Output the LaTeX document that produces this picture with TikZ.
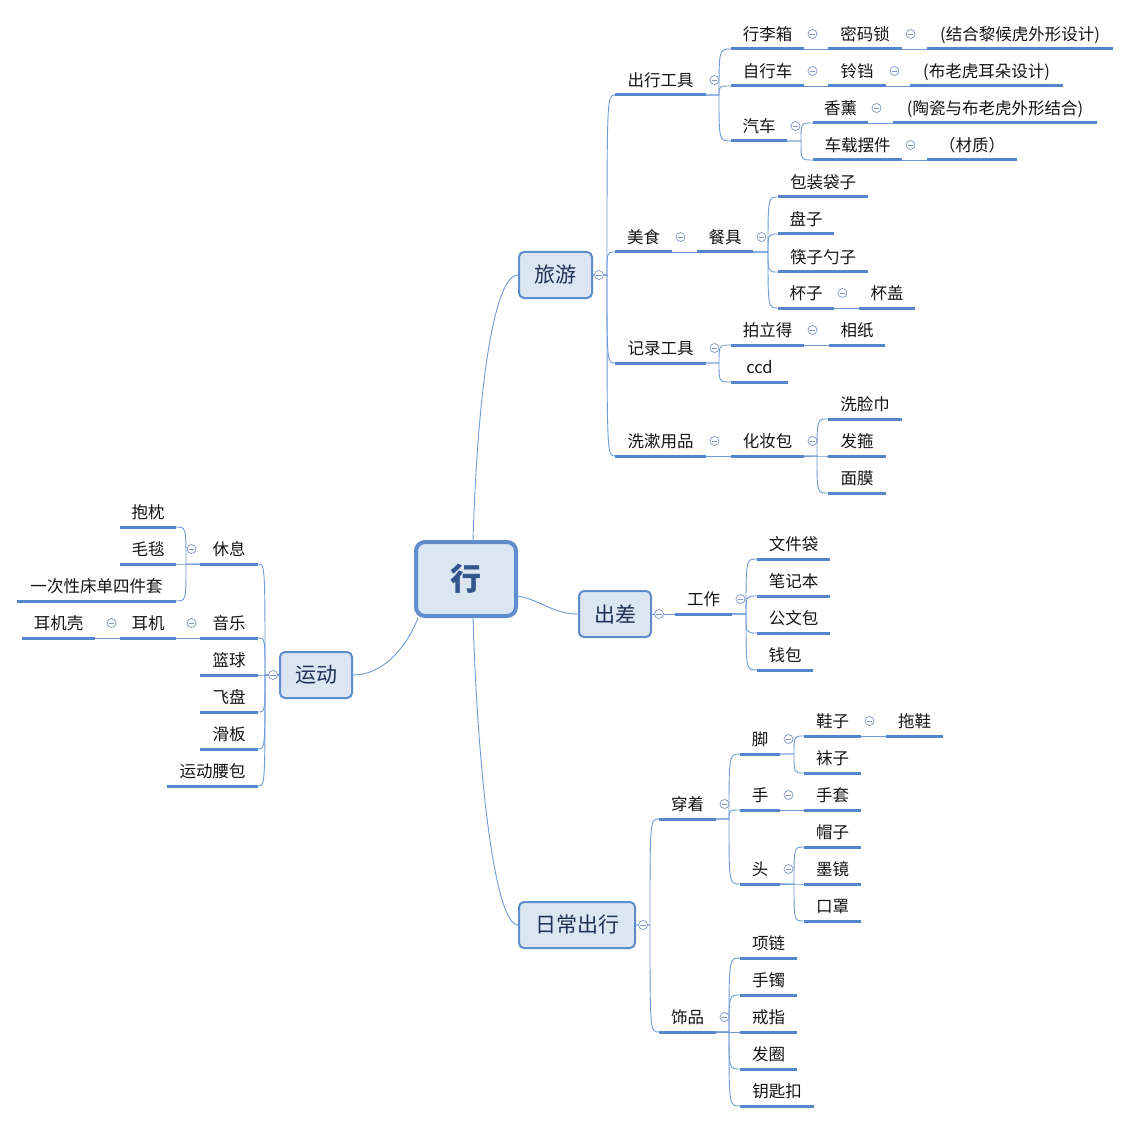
\documentclass[tikz,border=0pt]{standalone}
\usepackage{fontspec}
\newfontfamily\cjk{Noto Sans CJK SC}
\usetikzlibrary{calc}
\definecolor{ulc}{RGB}{84,134,204}
\definecolor{cnc}{RGB}{110,155,215}
\definecolor{foldc}{RGB}{125,150,195}
\definecolor{boxf}{RGB}{220,230,242}
\definecolor{boxd}{RGB}{95,140,205}
\definecolor{boxt}{RGB}{30,50,85}
\definecolor{roott}{RGB}{50,85,140}
\definecolor{txt}{RGB}{20,20,20}
\tikzset{
  ul/.style={line width=3pt, ulc},
  cn/.style={line width=0.9pt, cnc},
  lbl/.style={anchor=base, inner sep=0pt, text=txt, font=\cjk\fontsize{16.5}{16.5}\selectfont},
  box/.style={draw=boxd, fill=boxf, line width=2pt, rounded corners=5pt, text=boxt, inner sep=0pt,
    font=\cjk\fontsize{21}{21}\selectfont, minimum height=46pt},
  fold/.style={circle, draw=foldc, line width=0.7pt, fill=white, minimum size=9pt, inner sep=0pt,
    path picture={\draw[foldc,line width=0.7pt] ([xshift=-2.6pt]path picture bounding box.center) -- ([xshift=2.6pt]path picture bounding box.center);}}
}
\newcommand\topic[5]{%
  \coordinate (#1-l) at (#2,#4);
  \coordinate (#1-r) at (#3,#4);
  \draw[ul] (#1-l) -- (#1-r);
  \node[lbl] (#1) at ({(#2+#3)/2},{#4-8.7}) {#5};}
\newcommand\conn[3]{\draw[cn] (#1) -- (#3 |- #1) .. controls (#3 |- #2) .. (#2);}
\newcommand\foldR[1]{\node[fold] (#1-f) at ($(#1-r)+(8.5,-15)$) {};}
\newcommand\foldL[1]{\node[fold] (#1-f) at ($(#1-l)+(-8.5,-15)$) {};}
\begin{document}
\begin{tikzpicture}[x=1pt,y=-1pt]
\useasboundingbox[fill=white] (0,0) rectangle (1132,1123);
% boxes
\node[box, line width=4pt, rounded corners=9pt, minimum width=100pt, minimum height=74pt, text=roott,
  font=\cjk\bfseries\fontsize{31}{31}\selectfont] (root) at (466,579) {行};
\node[box, minimum width=73pt] (ly) at (555.5,275) {旅游};
\node[box, minimum width=72pt] (cc) at (615,614) {出差};
\node[box, minimum width=72pt] (yd) at (316,675) {运动};
\node[box, minimum width=116pt] (rc) at (577,925) {日常出行};
% trunk x positions
\coordinate (tly) at (607,0);
\coordinate (t1) at (719,0);
\coordinate (t2) at (801,0);
\coordinate (t3) at (768,0);
\coordinate (t4) at (719,0);
\coordinate (t5) at (817,0);
\coordinate (t6) at (746,0);
\coordinate (tyd) at (265,0);
\coordinate (t7) at (186,0);
\coordinate (trc) at (650,0);
\coordinate (t8) at (729,0);
\coordinate (t9) at (794,0);
% 旅游 topics
\topic{cxgj}{615}{706}{95}{出行工具}
\topic{xlx}{731}{804}{49}{行李箱}
\topic{mms}{828}{902}{49}{密码锁}
\topic{jh}{927}{1113}{49}{(结合黎候虎外形设计)}
\topic{zxc}{731}{804}{86}{自行车}
\topic{ld}{828}{886}{86}{铃铛}
\topic{blh}{910}{1063}{86}{(布老虎耳朵设计)}
\topic{qc}{731}{787}{141}{汽车}
\topic{xx}{813}{868}{123}{香薰}
\topic{tc}{893}{1097}{123}{(陶瓷与布老虎外形结合)}
\topic{czbj}{813}{902}{160}{车载摆件}
\topic{cz}{927}{1017}{160}{（材质）}
\topic{ms}{615}{672}{252}{美食}
\topic{cj}{697}{753}{252}{餐具}
\topic{bzdz}{778}{868}{197}{包装袋子}
\topic{pz}{778}{834}{234}{盘子}
\topic{kzsz}{778}{868}{272}{筷子勺子}
\topic{bz}{778}{834}{308}{杯子}
\topic{bg}{859}{915}{308}{杯盖}
\topic{jlgj}{615}{706}{363}{记录工具}
\topic{pld}{731}{804}{345}{拍立得}
\topic{xz}{829}{885}{345}{相纸}
\topic{ccd}{731}{788}{382}{ccd}
\topic{xsyp}{615}{706}{456}{洗漱用品}
\topic{hzb}{731}{804}{456}{化妆包}
\topic{xlj}{828}{902}{419}{洗脸巾}
\topic{fg}{828}{886}{456}{发箍}
\topic{mm}{828}{886}{493}{面膜}
% 出差 topics
\topic{gz}{675}{732}{614}{工作}
\topic{wjd}{757}{830}{559}{文件袋}
\topic{bjb}{757}{830}{596}{笔记本}
\topic{gwb}{757}{830}{633}{公文包}
\topic{qb}{757}{813}{670}{钱包}
% 运动 topics
\topic{xixi}{200}{258}{564}{休息}
\topic{bzh}{120}{176}{527}{抱枕}
\topic{mt}{120}{176}{564}{毛毯}
\topic{ycx}{17}{176}{601}{一次性床单四件套}
\topic{yy}{200}{258}{638}{音乐}
\topic{ej}{120}{176}{638}{耳机}
\topic{ejk}{22}{95}{638}{耳机壳}
\topic{lq}{200}{258}{675}{篮球}
\topic{fp}{200}{258}{712}{飞盘}
\topic{hb}{200}{258}{749}{滑板}
\topic{ydyb}{167}{258}{786}{运动腰包}
% 日常出行 topics
\topic{chz}{659}{716}{819}{穿着}
\topic{sp}{659}{716}{1032}{饰品}
\topic{jiao}{740}{780}{754}{脚}
\topic{shou}{740}{780}{810}{手}
\topic{tou}{740}{780}{884}{头}
\topic{xie}{804}{861}{736}{鞋子}
\topic{tx}{886}{943}{736}{拖鞋}
\topic{wz}{804}{861}{773}{袜子}
\topic{st}{804}{861}{810}{手套}
\topic{mz}{804}{861}{847}{帽子}
\topic{mj}{804}{861}{884}{墨镜}
\topic{kz}{804}{861}{921}{口罩}
\topic{xl}{740}{797}{958}{项链}
\topic{shz}{740}{797}{995}{手镯}
\topic{jz}{740}{797}{1032}{戒指}
\topic{fq}{740}{797}{1069}{发圈}
\topic{ysk}{740}{814}{1106}{钥匙扣}
% root connectors
\draw[cn] ([xshift=7pt]root.north) .. controls +(5,-160) and +(-23,0) .. (ly.west);
\draw[cn] ([xshift=7pt]root.south) .. controls +(5,160) and +(-23,0) .. (rc.west);
\draw[cn] ([yshift=-17pt]root.east) .. controls +(25,5) and +(-25,0) .. (cc.west);
\draw[cn] ([xshift=4pt]root.south west) .. controls +(-12,30) and +(30,0) .. (yd.east);
% 旅游
\conn{ly.east}{cxgj-l}{tly}
\conn{ly.east}{ms-l}{tly}
\conn{ly.east}{jlgj-l}{tly}
\conn{ly.east}{xsyp-l}{tly}
\conn{cxgj-r}{xlx-l}{t1}
\conn{cxgj-r}{zxc-l}{t1}
\conn{cxgj-r}{qc-l}{t1}
\draw[cn] (xlx-r) -- (mms-l);
\draw[cn] (mms-r) -- (jh-l);
\draw[cn] (zxc-r) -- (ld-l);
\draw[cn] (ld-r) -- (blh-l);
\conn{qc-r}{xx-l}{t2}
\conn{qc-r}{czbj-l}{t2}
\draw[cn] (xx-r) -- (tc-l);
\draw[cn] (czbj-r) -- (cz-l);
\draw[cn] (ms-r) -- (cj-l);
\conn{cj-r}{bzdz-l}{t3}
\conn{cj-r}{pz-l}{t3}
\conn{cj-r}{kzsz-l}{t3}
\conn{cj-r}{bz-l}{t3}
\draw[cn] (bz-r) -- (bg-l);
\conn{jlgj-r}{pld-l}{t4}
\conn{jlgj-r}{ccd-l}{t4}
\draw[cn] (pld-r) -- (xz-l);
\draw[cn] (xsyp-r) -- (hzb-l);
\conn{hzb-r}{xlj-l}{t5}
\conn{hzb-r}{fg-l}{t5}
\conn{hzb-r}{mm-l}{t5}
% 出差
\draw[cn] (cc.east) -- (gz-l);
\conn{gz-r}{wjd-l}{t6}
\conn{gz-r}{bjb-l}{t6}
\conn{gz-r}{gwb-l}{t6}
\conn{gz-r}{qb-l}{t6}
% 运动
\conn{yd.west}{xixi-r}{tyd}
\conn{yd.west}{yy-r}{tyd}
\conn{yd.west}{lq-r}{tyd}
\conn{yd.west}{fp-r}{tyd}
\conn{yd.west}{hb-r}{tyd}
\conn{yd.west}{ydyb-r}{tyd}
\conn{xixi-l}{bzh-r}{t7}
\conn{xixi-l}{mt-r}{t7}
\conn{xixi-l}{ycx-r}{t7}
\draw[cn] (yy-l) -- (ej-r);
\draw[cn] (ej-l) -- (ejk-r);
% 日常出行
\conn{rc.east}{chz-l}{trc}
\conn{rc.east}{sp-l}{trc}
\conn{chz-r}{jiao-l}{t8}
\conn{chz-r}{shou-l}{t8}
\conn{chz-r}{tou-l}{t8}
\conn{jiao-r}{xie-l}{t9}
\conn{jiao-r}{wz-l}{t9}
\draw[cn] (xie-r) -- (tx-l);
\draw[cn] (shou-r) -- (st-l);
\conn{tou-r}{mz-l}{t9}
\conn{tou-r}{mj-l}{t9}
\conn{tou-r}{kz-l}{t9}
\conn{sp-r}{xl-l}{t8}
\conn{sp-r}{shz-l}{t8}
\conn{sp-r}{jz-l}{t8}
\conn{sp-r}{fq-l}{t8}
\conn{sp-r}{ysk-l}{t8}
% fold markers
\node[fold] (ly-f) at ($(ly.east)+(6,0)$) {};
\node[fold] (cc-f) at ($(cc.east)+(7,0)$) {};
\node[fold] (yd-f) at ($(yd.west)+(-6,0)$) {};
\node[fold] (rc-f) at ($(rc.east)+(7,0)$) {};
\foldR{cxgj}\foldR{xlx}\foldR{mms}\foldR{zxc}\foldR{ld}\foldR{qc}\foldR{xx}\foldR{czbj}
\foldR{ms}\foldR{cj}\foldR{bz}\foldR{jlgj}\foldR{pld}\foldR{xsyp}\foldR{hzb}
\foldR{gz}
\foldL{xixi}\foldL{yy}\foldL{ej}
\foldR{chz}\foldR{sp}\foldR{jiao}\foldR{shou}\foldR{tou}\foldR{xie}
\end{tikzpicture}
\end{document}
